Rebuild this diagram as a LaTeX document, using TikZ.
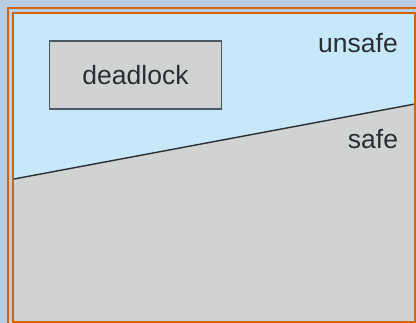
\documentclass[tikz,border=0pt]{standalone}
\usepackage{fontspec}
\setmainfont{Liberation Sans}
\definecolor{bgblue}{HTML}{B9CDE5}
\definecolor{unsafeblue}{HTML}{C6E8F8}
\definecolor{safegray}{HTML}{D1D3D3}
\definecolor{frameorange}{HTML}{D2650C}
\definecolor{boxedge}{HTML}{4A5864}
\definecolor{txt}{HTML}{2A2E33}
\tikzset{
  frame/.style={draw=frameorange, line width=2.4pt},
  label/.style={text=txt, font=\fontsize{26.5}{31}\selectfont, inner sep=0pt},
}
\begin{document}
\begin{tikzpicture}[x=1pt,y=-1pt]
\useasboundingbox (0,0) rectangle (416,323);
\fill[bgblue] (0,0) rectangle (416,323);
% outer frame (runs off the right and bottom edges)
\draw[frame] (8,330) -- (8,8) -- (430,8);
% regions
\coordinate (L) at (14,179);
\coordinate (R) at (415,104);
\fill[unsafeblue] (14,14) rectangle (415,322);
\fill[safegray] (L) -- (R) -- (415,322) -- (14,322) -- cycle;
\draw[color=txt, line width=1.4pt] (L) -- (R);
% inner frame
\draw[frame] (13,13) rectangle (415,322);
% deadlock box
\node[draw=boxedge, line width=1.3pt, fill=safegray, minimum width=172pt, minimum height=68pt, label, inner sep=0pt] (deadlock) at (135.5,75) {deadlock};
\node[label] (unsafe) at (358,43) {unsafe};
\node[label] (safe) at (373,139) {safe};
\end{tikzpicture}
\end{document}
